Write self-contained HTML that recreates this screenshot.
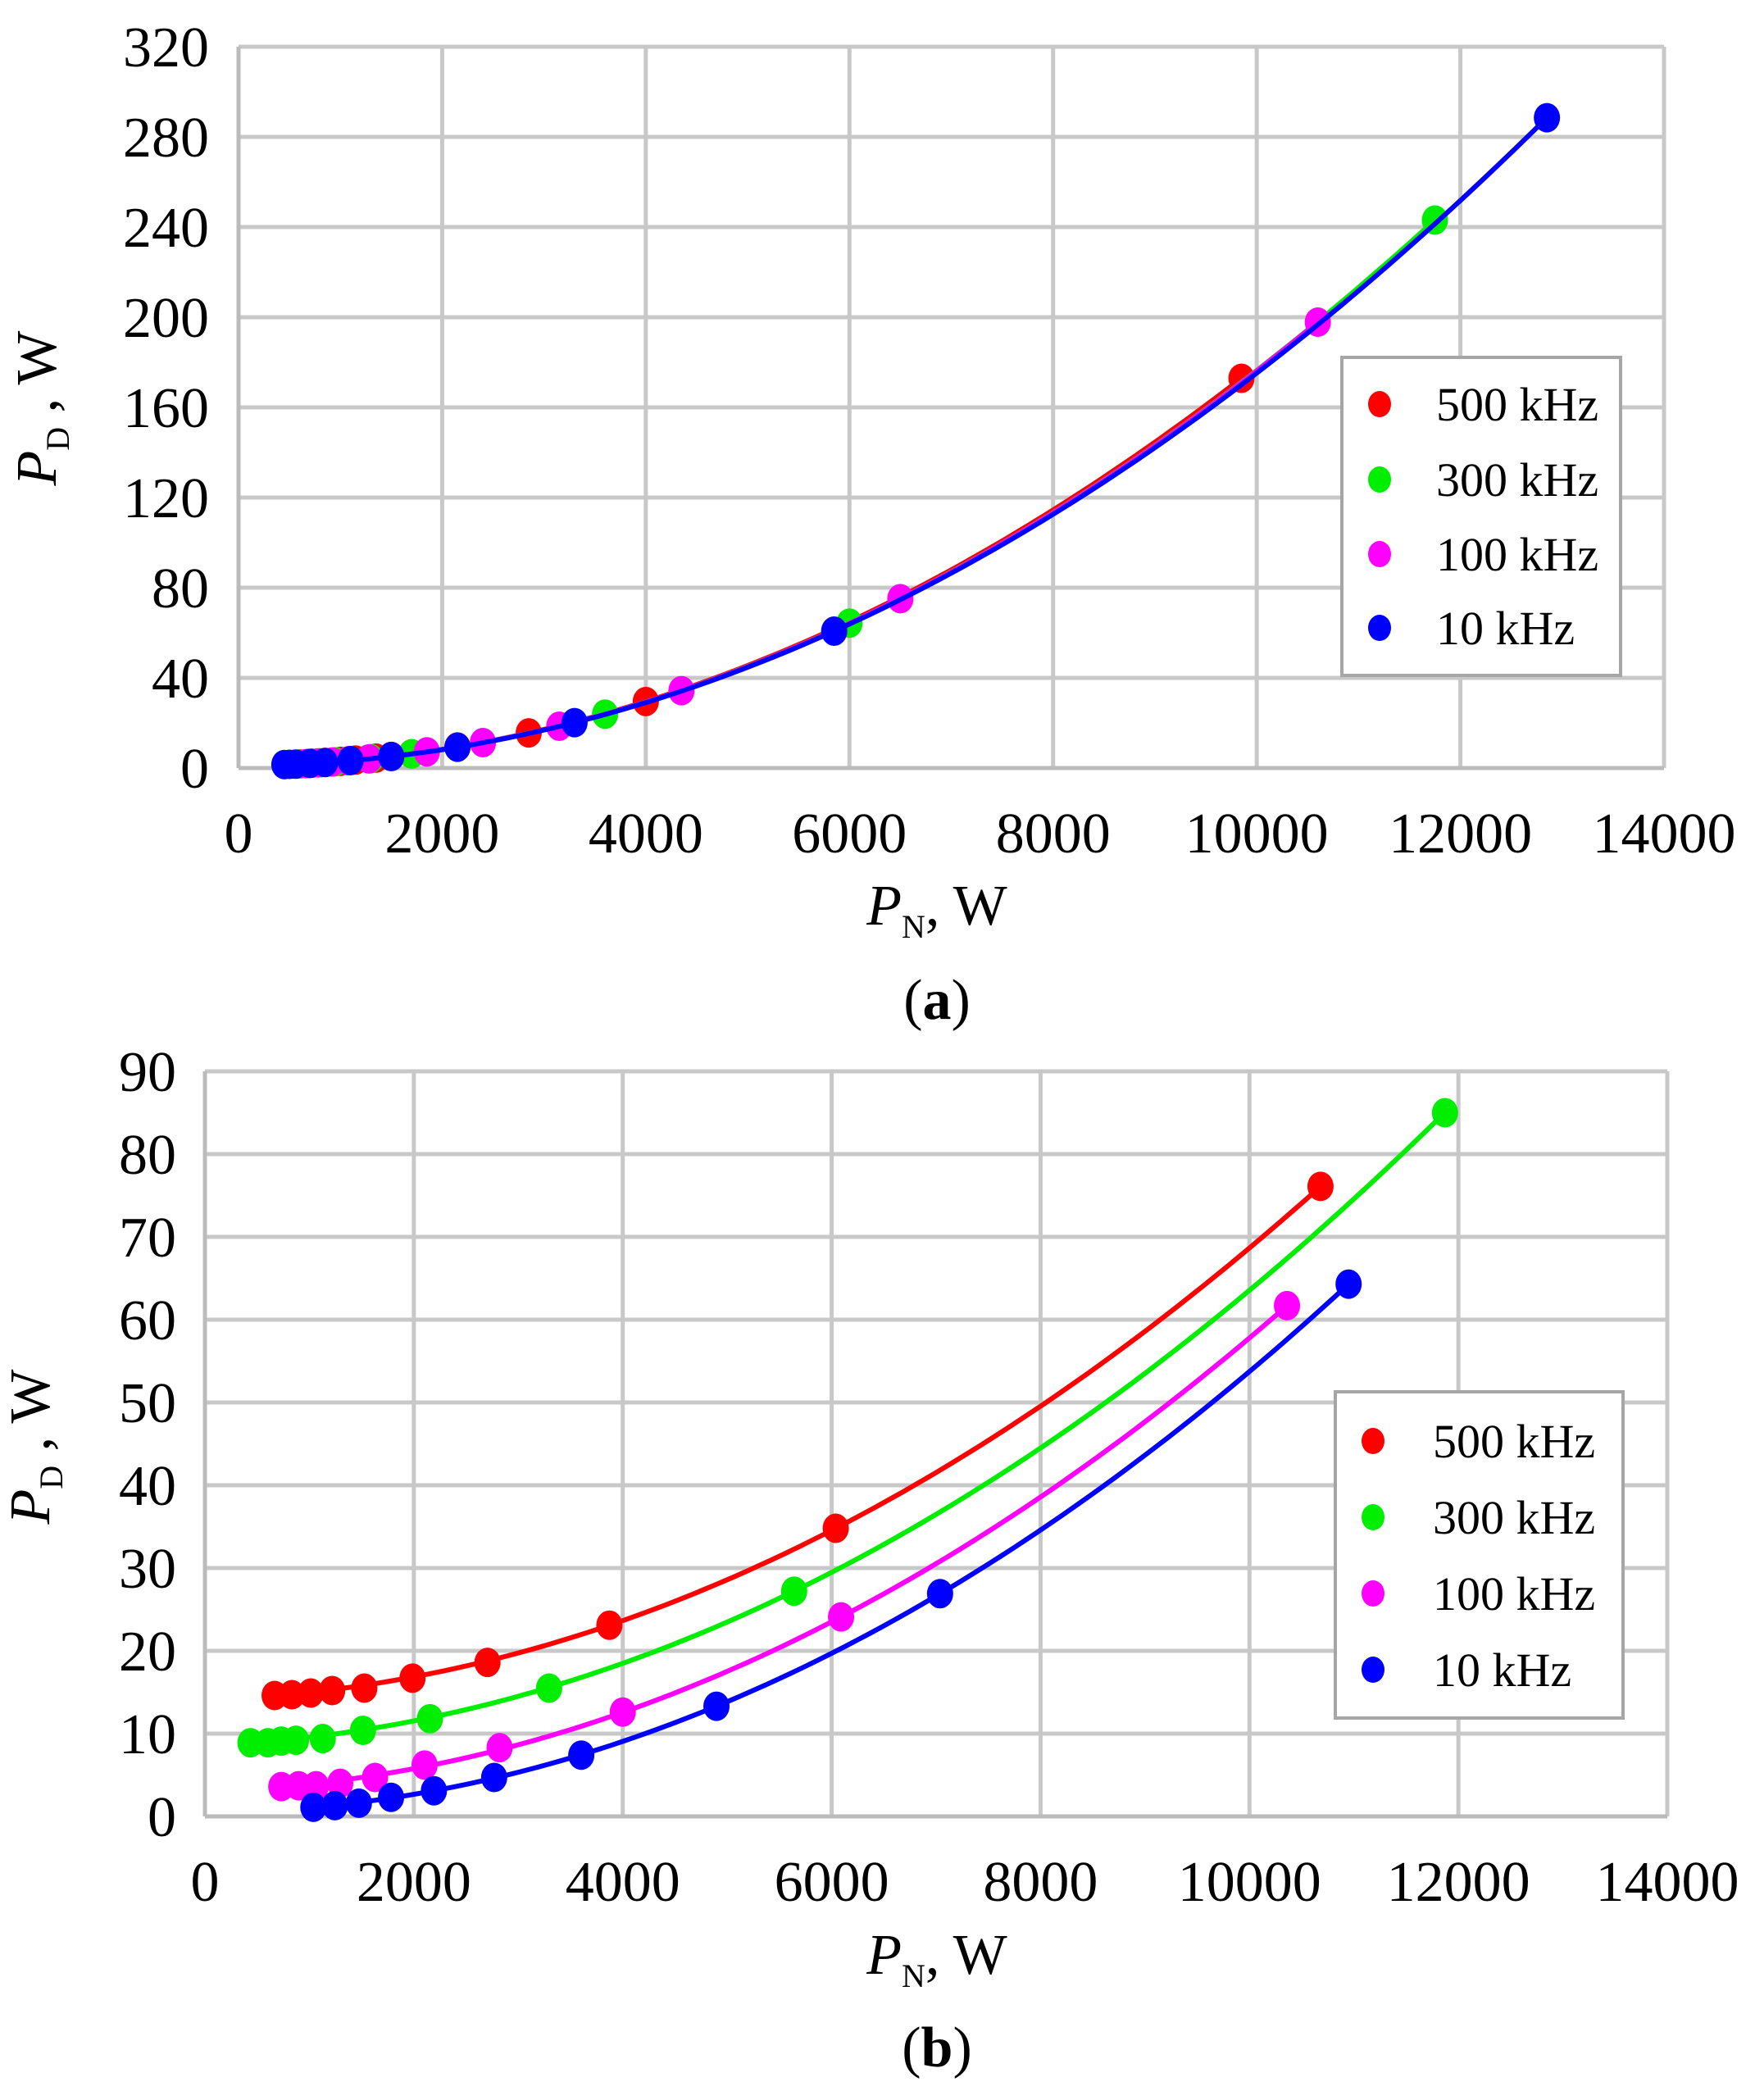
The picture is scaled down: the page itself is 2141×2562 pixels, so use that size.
<!DOCTYPE html>
<html><head><meta charset="utf-8">
<style>
html,body{margin:0;padding:0;background:#fff;}
svg{display:block;}
</style></head>
<body>
<svg id="s" width="2141" height="2562" viewBox="0 0 2141 2562" xmlns="http://www.w3.org/2000/svg" font-family="'Liberation Serif', 'Times New Roman', 'DejaVu Serif', serif">
<rect width="2141" height="2562" fill="#fff"/>
</svg>
<script>
const S=document.getElementById('s');const NS='http://www.w3.org/2000/svg';
const FF="'Liberation Serif', 'Times New Roman', 'DejaVu Serif', serif";
function el(t,a,txt){const e=document.createElementNS(NS,t);for(const k in a)e.setAttribute(k,a[k]);if(t==='text')e.setAttribute('font-family',FF);if(txt!==undefined)e.textContent=txt;S.appendChild(e);return e;}
const cols={r:'#ff0000',g:'#00ee00',m:'#ff00ff',b:'#0000ff'};
function poly(pts){return 'M'+pts.map(p=>p[0].toFixed(1)+','+p[1].toFixed(1)).join(' L');}
function chart(o){
 const X=v=>o.L+(o.R-o.L)*v/14000, Y=v=>o.B-(o.B-o.T)*v/o.ymax;
 for(let v=0;v<=14000;v+=2000){el('line',{x1:X(v),x2:X(v),y1:o.T,y2:o.B,stroke:'#c8c8c8','stroke-width':5});
  el('text',{x:X(v),y:o.xl,'font-size':70,'text-anchor':'middle'},v);}
 for(let v=0;v<=o.ymax;v+=o.ystep){el('line',{x1:o.L,x2:o.R,y1:Y(v),y2:Y(v),stroke:'#c8c8c8','stroke-width':5});
  el('text',{x:o.yl,y:Y(v)+24,'font-size':70,'text-anchor':'end'},v);}
 el('line',{x1:o.L,x2:o.R,y1:o.B,y2:o.B,stroke:'#bbbbbb','stroke-width':5});
 el('line',{x1:o.L,x2:o.L,y1:o.T,y2:o.B,stroke:'#bbbbbb','stroke-width':5});
 for(const s of o.series){
  const f=x=>{const t=x/1000;return s.k[0]+s.k[1]*t+s.k[2]*t*t;};
  const a=s.d[0][0],b=s.d[s.d.length-1][0],cp=[];
  for(let i=0;i<=80;i++){const x=a+(b-a)*i/80;cp.push([X(x),Y(f(x))]);}
  el('path',{d:poly(cp),fill:'none',stroke:cols[s.c],'stroke-width':6});
  for(const p of s.d)el('ellipse',{cx:X(p[0]),cy:Y(p[1]),rx:16,ry:18,fill:cols[s.c]});}
 const g=o.leg;el('rect',{x:g.x,y:g.y,width:g.w,height:g.h,fill:'#fff',stroke:'#a6a6a6','stroke-width':4});
 ['r','g','m','b'].forEach((c,i)=>{const yy=g.e[i];el('ellipse',{cx:g.mx,cy:yy,rx:14,ry:16,fill:cols[c]});
  el('text',{x:g.tx,y:yy+20,'font-size':58},['500 kHz','300 kHz','100 kHz','10 kHz'][i]);});
 const t=el('text',{x:o.xt,y:o.xty,'font-size':70,'text-anchor':'middle'});
 t.innerHTML='<tspan font-style="italic">P</tspan><tspan font-size="40" dy="16">N</tspan><tspan dy="-16">, W</tspan>';
 const yt=el('text',{transform:'translate('+o.ytx+','+o.yty+') rotate(-90)','font-size':70,'text-anchor':'middle'});
 yt.innerHTML='<tspan font-style="italic">P</tspan><tspan font-size="40" dy="16">D</tspan><tspan dy="-16"> , W</tspan>';
 const c=el('text',{x:o.xt,y:o.cy,'font-size':70,'text-anchor':'middle'});
 c.innerHTML='(<tspan font-weight="bold">'+o.cap+'</tspan>)';
}
function q(k,xs){return xs.map(x=>[x,k*(x/1000)*(x/1000)+1.2]);}
chart({L:291,R:2030,T:57,B:937,ymax:320,ystep:40,xl:1040,yl:255,xt:1143,xty:1128,ytx:68,yty:498,cy:1243,cap:'a',
 series:[
  {c:'r',k:[1.2,0,1.77],d:q(1.77,[600,720,850,1000,1150,1350,1700,2150,2850,4000,9850])},
  {c:'g',k:[1.2,0,1.752],d:q(1.752,[580,680,800,950,1100,1300,1700,2400,3600,6000,11750])},
  {c:'m',k:[1.2,0,1.75],d:q(1.75,[660,780,920,1080,1280,1500,1850,2400,3150,4350,6500,10600])},
  {c:'b',k:[1.2,0,1.74],d:q(1.74,[450,500,560,700,850,1100,1500,2150,3300,5850,12850])}],
 leg:{x:1637,y:436,w:340,h:388,mx:1683,tx:1752,e:[493,585,676,766]}});
chart({L:250,R:2034,T:1307,B:2216,ymax:90,ystep:10,xl:2319,yl:215,xt:1143,xty:2408,ytx:60,yty:1765,cy:2521,cap:'b',
 series:[
  {c:'r',k:[14.16,0.32,0.513],d:[[667,14.6],[833,14.7],[1013,14.9],[1218,15.2],[1526,15.5],[1987,16.7],[2705,18.6],[3872,23.1],[6039,34.8],[10680,76.1]]},
  {c:'g',k:[8.61,0.454,0.504],d:[[436,8.9],[603,8.9],[731,9.1],[872,9.2],[1128,9.4],[1513,10.4],[2154,11.8],[3295,15.5],[5641,27.2],[11872,85]]},
  {c:'m',k:[3.10,0.299,0.517],d:[[731,3.6],[897,3.7],[1064,3.7],[1295,4.0],[1628,4.7],[2103,6.2],[2821,8.3],[4000,12.6],[6090,24.1],[10359,61.7]]},
  {c:'b',k:[0.52,0.011,0.531],d:[[1038,1.1],[1244,1.3],[1474,1.6],[1782,2.3],[2192,3.1],[2769,4.7],[3603,7.4],[4897,13.3],[7038,26.9],[10949,64.3]]}],
 leg:{x:1629,y:1698,w:351,h:398,mx:1675,tx:1748,e:[1758,1851,1944,2037]}});
</script>
</body></html>
